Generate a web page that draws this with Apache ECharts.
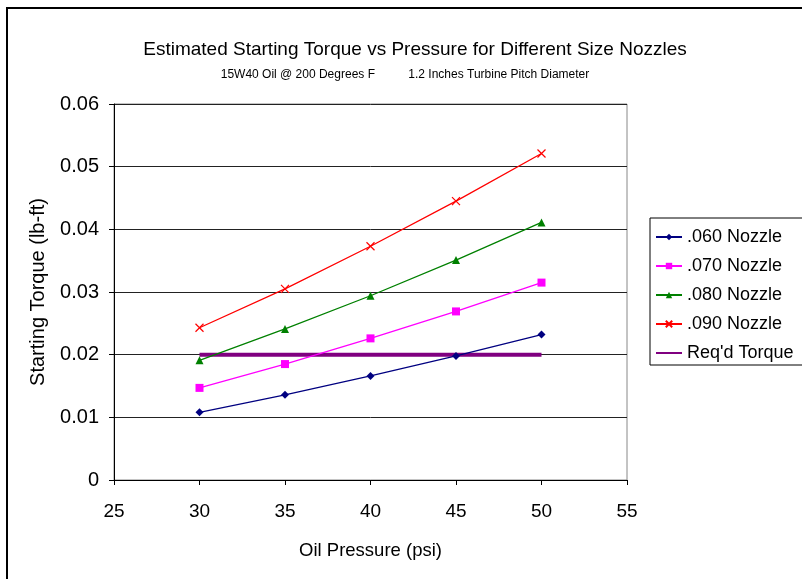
<!DOCTYPE html>
<html>
<head>
<meta charset="utf-8">
<script src="https://cdn.jsdelivr.net/npm/echarts@6/dist/echarts.min.js"></script>
<style>
  html, body { margin: 0; padding: 0; background: #fff; }
  #main { width: 802px; height: 579px; }
</style>
</head>
<body>
<div id="main"></div>
<script>
// oil pressure (psi)
var pressure = [30, 35, 40, 45, 50];
// starting torque (lb-ft) per nozzle size
var nozzle060 = [0.0108, 0.0136, 0.0166, 0.0198, 0.0232];
var nozzle070 = [0.0147, 0.0185, 0.0226, 0.0269, 0.0315];
var nozzle080 = [0.0191, 0.0241, 0.0294, 0.0351, 0.0411];
var nozzle090 = [0.0243, 0.0305, 0.0373, 0.0445, 0.0521];
var reqTorque = [0.02, 0.02, 0.02, 0.02, 0.02];

var seriesNames = ['.060 Nozzle', '.070 Nozzle', '.080 Nozzle', '.090 Nozzle', "Req'd Torque"];

function pairs(ys) {
  var out = [];
  for (var i = 0; i < pressure.length; i++) {
    out.push([pressure[i], ys[i]]);
  }
  return out;
}

var font = 'Liberation Sans, Arial, sans-serif';
var myChart = echarts.init(document.getElementById('main'));

var option = {
  backgroundColor: '#fff',
  animation: false,
  textStyle: { fontFamily: font },
  title: [{
    text: 'Estimated Starting Torque vs Pressure for Different Size Nozzles',
    left: 410, top: 35, textAlign: 'center',
    textStyle: { fontSize: 19, fontWeight: 'normal', color: '#000', fontFamily: font }
  }, {
    text: '15W40 Oil @ 200 Degrees F          1.2 Inches Turbine Pitch Diameter',
    left: 400, top: 64, textAlign: 'center',
    textStyle: { fontSize: 12, fontWeight: 'normal', color: '#000', fontFamily: font }
  }],
  graphic: [{
    type: 'rect',
    shape: { x: 7, y: 8, width: 900, height: 700 },
    style: { fill: 'none', stroke: '#000', lineWidth: 2 },
    z: -1
  }],
  legend: {
    orient: 'vertical',
    left: 650, top: 218,
    padding: [10, 14, 3, 5],
    itemGap: 11,
    itemWidth: 26,
    itemHeight: 8,
    borderColor: '#000',
    borderWidth: 1,
    textStyle: { fontSize: 18, color: '#000', fontFamily: font },
    data: [
      seriesNames[0], seriesNames[1], seriesNames[2], seriesNames[3],
      { name: seriesNames[4], itemStyle: { opacity: 0 } }
    ]
  },
  grid: {
    left: 114, right: 175, top: 104, bottom: 99,
    show: true, borderColor: '#888', borderWidth: 1
  },
  xAxis: {
    type: 'value',
    min: 25, max: 55, interval: 5,
    name: 'Oil Pressure (psi)',
    nameLocation: 'middle',
    nameGap: 61,
    nameTextStyle: { fontSize: 18.5, color: '#000' },
    axisLine: { lineStyle: { color: '#000', width: 1 } },
    axisTick: { show: true, inside: false, length: 5, lineStyle: { color: '#000' } },
    axisLabel: { fontSize: 19, color: '#000', margin: 22 },
    splitLine: { show: false }
  },
  yAxis: {
    type: 'value',
    min: 0, max: 0.06, interval: 0.01,
    name: 'Starting Torque (lb-ft)',
    nameLocation: 'middle',
    nameGap: 66,
    nameTextStyle: { fontSize: 20, color: '#000' },
    axisLine: { show: true, lineStyle: { color: '#000', width: 1 } },
    axisTick: { show: true, inside: false, length: 5, lineStyle: { color: '#000' } },
    axisLabel: {
      fontSize: 20, color: '#000', margin: 15,
      formatter: function (v) { return v === 0 ? '0' : v.toFixed(2); }
    },
    splitLine: { show: true, lineStyle: { color: '#222', width: 1 } }
  },
  series: [{
    name: seriesNames[0], type: 'line',
    data: pairs(nozzle060),
    symbol: 'diamond', symbolSize: 8,
    color: '#000080',
    lineStyle: { width: 1.3, color: '#000080' },
    itemStyle: { color: '#000080' }
  }, {
    name: seriesNames[1], type: 'line',
    data: pairs(nozzle070),
    symbol: 'rect', symbolSize: 8,
    color: '#ff00ff',
    lineStyle: { width: 1.3, color: '#ff00ff' },
    itemStyle: { color: '#ff00ff' }
  }, {
    name: seriesNames[2], type: 'line',
    data: pairs(nozzle080),
    symbol: 'triangle', symbolSize: 8,
    color: '#008000',
    lineStyle: { width: 1.3, color: '#008000' },
    itemStyle: { color: '#008000' }
  }, {
    name: seriesNames[3], type: 'line',
    data: pairs(nozzle090),
    symbol: 'path://M0,0L10,10M10,0L0,10', symbolSize: 8,
    color: '#ff0000',
    lineStyle: { width: 1.3, color: '#ff0000' },
    itemStyle: { color: 'none', borderColor: '#ff0000', borderWidth: 1.2 }
  }, {
    name: seriesNames[4], type: 'line',
    data: pairs(reqTorque),
    symbol: 'none',
    color: '#800080',
    lineStyle: { width: 4, color: '#800080' },
    z: 1
  }]
};

myChart.setOption(option);
</script>
</body>
</html>
